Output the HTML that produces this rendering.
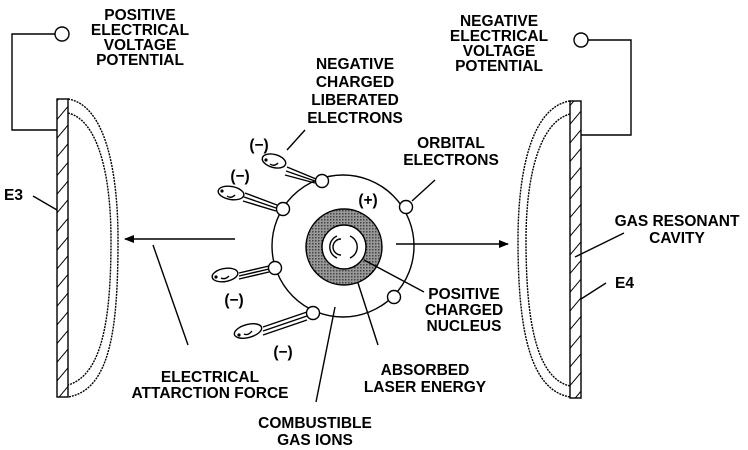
<!DOCTYPE html>
<html><head><style>
body{margin:0;background:#fff;}
svg{display:block;}
text{font-family:"Liberation Sans",Arial,sans-serif;font-weight:bold;font-size:15.5px;fill:#000;}
</style></head><body>
<svg width="748" height="450" viewBox="0 0 748 450" xmlns="http://www.w3.org/2000/svg">
<defs>
<pattern id="h" width="12" height="12" patternUnits="userSpaceOnUse" patternTransform="rotate(40)">
<line x1="0" y1="0" x2="0" y2="12" stroke="#000" stroke-width="2"/>
</pattern>
<pattern id="dots" width="3" height="3" patternUnits="userSpaceOnUse">
<rect width="3" height="3" fill="#999"/><rect width="1.5" height="1.5" fill="#444"/>
</pattern>
<marker id="ar" markerWidth="10" markerHeight="8" refX="9" refY="4" orient="auto" markerUnits="userSpaceOnUse">
<path d="M0,0 L10,4 L0,8 Z" fill="#000"/>
</marker>
</defs>
<g fill="none" stroke="#000" stroke-width="1.4">
<rect x="57" y="99" width="11" height="298" fill="url(#h)"/>
<polyline points="57,130 12,130 12,34 55,34"/>
<circle cx="62" cy="34" r="7" fill="#fff"/>
<path d="M68,99 C105,105 118,170 118,240 C118,330 110,390 68,397" stroke-dasharray="2,1"/>
<path d="M68,113 C98,120 111,175 111,240 C111,320 102,375 68,385" stroke-dasharray="2,1"/>
<rect x="570" y="101" width="11" height="297" fill="url(#h)"/>
<polyline points="581,135 631,135 631,40 588,40"/>
<circle cx="581" cy="40" r="7" fill="#fff"/>
<path d="M570,101 C532,107 518,170 518,240 C518,330 530,390 570,397" stroke-dasharray="2,1"/>
<path d="M570,114 C540,122 526,175 526,240 C526,320 536,378 570,386" stroke-dasharray="2,1"/>
<line x1="235" y1="239" x2="125" y2="239" marker-end="url(#ar)"/>
<line x1="396" y1="244" x2="508" y2="244" marker-end="url(#ar)"/>
<circle cx="343" cy="246" r="71"/>
<circle cx="344" cy="247" r="38" fill="url(#dots)"/>
<circle cx="344" cy="247" r="22" fill="#fff"/>
<path d="M337,236 A12,12 0 0 0 337,258"/>
<path d="M341,239 A8,8 0 0 0 341,255"/>
<path d="M350,236 A12,12 0 0 1 350,258"/>
<path d="M287,167 L316,179 M286,171 L315,181 M285,175 L315,183"/>
<path d="M245,193 L277,205 M244,197 L276,208 M243,201 L276,211"/>
<path d="M239,273 L269,266 M239,276 L269,269 M239,279 L269,272"/>
<path d="M263,327 L307,312 M263,331 L307,316 M263,335 L307,320"/>
<circle cx="322" cy="181" r="6.5" fill="#fff"/>
<circle cx="283" cy="209" r="6.5" fill="#fff"/>
<circle cx="275" cy="268" r="6.5" fill="#fff"/>
<circle cx="313" cy="313" r="6.5" fill="#fff"/>
<circle cx="406" cy="207" r="6.5" fill="#fff"/>
<circle cx="394" cy="297" r="6.5" fill="#fff"/>
<ellipse cx="274" cy="161" rx="12" ry="6.5" transform="rotate(15 274 161)"/>
<ellipse cx="231" cy="193" rx="13" ry="6.5" transform="rotate(10 231 193)"/>
<ellipse cx="225" cy="275" rx="13" ry="6.5" transform="rotate(-10 225 275)"/>
<ellipse cx="248" cy="331" rx="14" ry="6.5" transform="rotate(-15 248 331)"/>
<path d="M270,164 q4,3 8,-1 M227,196 q4,3 8,-1 M221,278 q4,2 8,-2 M244,334 q4,2 8,-3"/>
<line x1="305" y1="130" x2="287" y2="150"/>
<line x1="435" y1="180" x2="412" y2="201"/>
<line x1="624" y1="233" x2="575" y2="257"/>
<line x1="606" y1="283" x2="581" y2="299"/>
<line x1="33" y1="196" x2="57" y2="210"/>
<line x1="364" y1="260" x2="424" y2="292"/>
<line x1="358" y1="283" x2="378" y2="345"/>
<line x1="335" y1="307" x2="316" y2="402"/>
<line x1="153" y1="245" x2="188" y2="345"/>
</g>
<g fill="#000">
<circle cx="266" cy="160" r="1.6"/><circle cx="222" cy="191" r="1.6"/>
<circle cx="216" cy="277" r="1.6"/><circle cx="239" cy="335" r="1.6"/>
</g>
<g text-anchor="middle">
<text x="140" y="20">POSITIVE</text><text x="140" y="35">ELECTRICAL</text><text x="140" y="50">VOLTAGE</text><text x="140" y="65">POTENTIAL</text>
<text x="499" y="26">NEGATIVE</text><text x="499" y="41">ELECTRICAL</text><text x="499" y="56">VOLTAGE</text><text x="499" y="71">POTENTIAL</text>
<text x="355" y="69">NEGATIVE</text><text x="355" y="87">CHARGED</text><text x="355" y="105">LIBERATED</text><text x="355" y="123">ELECTRONS</text>
<text x="451" y="148">ORBITAL</text><text x="451" y="165">ELECTRONS</text>
<text x="677" y="226">GAS RESONANT</text><text x="677" y="243">CAVITY</text>
<text x="464" y="299">POSITIVE</text><text x="464" y="315">CHARGED</text><text x="464" y="331">NUCLEUS</text>
<text x="425" y="375">ABSORBED</text><text x="425" y="392">LASER ENERGY</text>
<text x="210" y="382">ELECTRICAL</text><text x="210" y="398">ATTARCTION FORCE</text>
<text x="315" y="428">COMBUSTIBLE</text><text x="315" y="445">GAS IONS</text>
<text x="368" y="205">(+)</text>
<text x="259" y="150">(−)</text><text x="240" y="181">(−)</text>
<text x="234" y="305">(−)</text><text x="283" y="357">(−)</text>
</g>
<text x="4" y="200">E3</text>
<text x="615" y="288">E4</text>
</svg>
</body></html>
